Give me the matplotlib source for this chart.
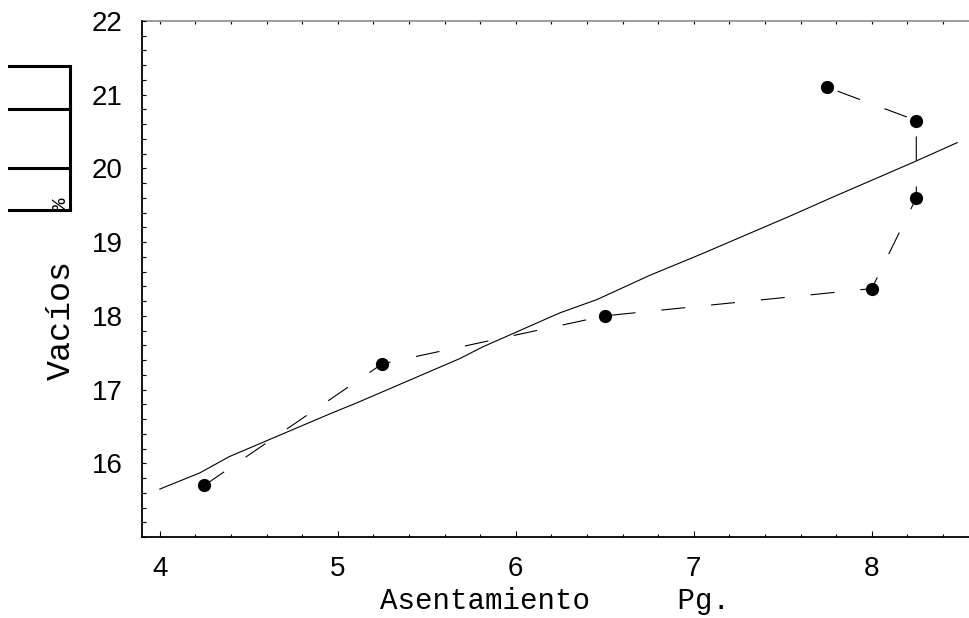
import numpy as np
import matplotlib
matplotlib.use("Agg")
from matplotlib import pyplot as plt
from matplotlib.lines import Line2D
from matplotlib.ticker import MultipleLocator

## measured points (settlement vs voids)
asent = [4.25, 5.25, 6.5, 8.0, 8.25, 8.25, 7.75]
vacios = [15.7, 17.35, 18.0, 18.37, 19.6, 20.65, 21.1]

## fitted curve
fit_x = [4.0, 4.225, 4.39, 4.955, 5.107, 5.685, 5.815, 6.247, 6.455, 6.753, 7.034, 7.556, 7.78, 8.23, 8.48]
fit_y = [15.65, 15.87, 16.09, 16.67, 16.82, 17.42, 17.58, 18.04, 18.22, 18.55, 18.83, 19.37, 19.61, 20.08, 20.35]

xticks = [4, 5, 6, 7, 8]
yticks = [16, 17, 18, 19, 20, 21, 22]

W, H = 969, 618
fig = plt.figure(figsize=(W / 100, H / 100), dpi=100)
ax = fig.add_axes([142 / W, 1 - 537 / H, 1 - 142 / W, (537 - 21) / H])

ax.plot(fit_x, fit_y, color='black', lw=0.8)
lw = 0.8
ax.plot(asent, vacios, color='black', lw=lw, ls=(0, (17.3 / lw, 18.7 / lw)))
ax.plot(asent, vacios, 'o', color='black', ms=8.5, ls='none')

ax.set_xlim(3.9, 3.9 + (W - 142) / 178)
ax.set_ylim(15, 22)

ax.set_xticks(xticks)
ax.set_yticks(yticks)
ax.xaxis.set_minor_locator(MultipleLocator(0.2))
ax.yaxis.set_minor_locator(MultipleLocator(0.2))
ax.tick_params(axis='x', which='major', direction='in', length=4.5, width=0.8, pad=14)
ax.tick_params(axis='x', which='minor', direction='in', length=2.4, width=0.8)
ax.tick_params(axis='y', which='both', direction='in', length=3, width=0.8, pad=14)
for lab in ax.get_xticklabels() + ax.get_yticklabels():
    lab.set_fontfamily('Liberation Sans')
    lab.set_fontsize(20)

ax.spines['right'].set_visible(False)
ax.spines['top'].set_visible(False)
ax.spines['left'].set_linewidth(1.3)
ax.spines['bottom'].set_linewidth(1.3)

# top axis: gray line with small ticks every 0.2
top = ax.secondary_xaxis('top')
top.xaxis.set_major_locator(MultipleLocator(0.2))
top.tick_params(direction='in', length=2.2, width=0.8, labeltop=False, colors='black')
top.spines['top'].set_color('0.55')
top.spines['top'].set_linewidth(1.2)

ax.set_xlabel('Asentamiento     Pg.', fontfamily='Liberation Mono', fontsize=21, labelpad=3)
fig.text(61 / W, 1 - 320 / H, 'Vacíos', rotation=90, fontfamily='Liberation Mono',
         fontsize=24, ha='center', va='center')
fig.text(61 / W, 1 - 204 / H, '%', rotation=90, fontfamily='Liberation Mono',
         fontsize=15, ha='center', va='center')

# bracket glyph left over from the label rendering
def fx(px):
    return px / W
def fy(py):
    return 1 - py / H
for py in [66, 109, 168, 210]:
    fig.add_artist(Line2D([fx(9), fx(70)], [fy(py), fy(py)], color='black', lw=2.2))
fig.add_artist(Line2D([fx(70), fx(70)], [fy(66), fy(210)], color='black', lw=2.2))

plt.savefig('out.png', dpi=100)
